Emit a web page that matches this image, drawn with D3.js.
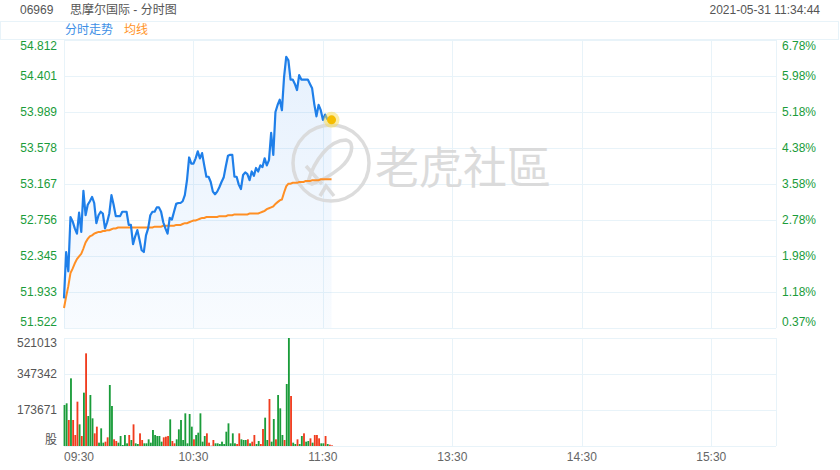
<!DOCTYPE html>
<html>
<head>
<meta charset="utf-8">
<script src="https://cdn.jsdelivr.net/npm/d3@7"></script>
<style>
  body { margin: 0; background: #fff; }
  svg text { font-family: "Liberation Sans", Arial, "Noto Sans CJK SC", sans-serif; }
</style>
</head>
<body>
<svg id="chart"></svg>
<script>
// Data (one value per minute from 09:30)
var prices = [51.86, 52.39, 52.17, 52.79, 52.74, 52.66, 52.60, 52.84, 52.62, 53.09,
  52.81, 52.93, 52.97, 53.02, 52.95, 52.72, 52.81, 52.85, 52.83, 52.66,
  52.73, 52.83, 53.04, 52.93, 52.80, 52.80, 52.80, 52.85, 52.85, 52.85,
  52.70, 52.70, 52.48, 52.57, 52.64, 52.53, 52.41, 52.39, 52.58, 52.66,
  52.81, 52.85, 52.85, 52.90, 52.90, 52.85, 52.73, 52.66, 52.60, 52.78,
  52.76, 52.85, 52.94, 52.95, 52.95, 52.97, 53.04, 53.21, 53.47, 53.40,
  53.40, 53.46, 53.54, 53.46, 53.52, 53.38, 53.25, 53.25, 53.19, 53.08,
  53.05, 53.08, 53.13, 53.19, 53.24, 53.37, 53.49, 53.50, 53.50, 53.25,
  53.25, 53.16, 53.11, 53.27, 53.30, 53.28, 53.21, 53.31, 53.26, 53.35,
  53.31, 53.38, 53.36, 53.46, 53.38, 53.44, 53.75, 53.50, 53.99, 54.07,
  54.13, 54.01, 54.39, 54.62, 54.58, 54.36, 54.36, 54.31, 54.24, 54.41,
  54.36, 54.36, 54.36, 54.36, 54.31, 54.26, 54.08, 53.94, 54.07, 54.01,
  53.90, 53.96, 53.91, 53.90, 53.90];

var averages = [51.75, 51.88, 52.00, 52.15, 52.20, 52.26, 52.31, 52.34, 52.37, 52.43,
  52.50, 52.54, 52.57, 52.58, 52.60, 52.61, 52.62, 52.62, 52.63, 52.63,
  52.64, 52.64, 52.65, 52.66, 52.66, 52.67, 52.67, 52.67, 52.67, 52.67,
  52.67, 52.67, 52.67, 52.67, 52.67, 52.67, 52.67, 52.67, 52.67, 52.67,
  52.67, 52.67, 52.68, 52.68, 52.68, 52.68, 52.69, 52.69, 52.69, 52.69,
  52.69, 52.69, 52.70, 52.70, 52.70, 52.71, 52.72, 52.72, 52.73, 52.74,
  52.75, 52.75, 52.76, 52.77, 52.78, 52.78, 52.79, 52.79, 52.79, 52.79,
  52.79, 52.79, 52.80, 52.80, 52.80, 52.80, 52.81, 52.81, 52.81, 52.82,
  52.82, 52.82, 52.82, 52.82, 52.82, 52.82, 52.83, 52.83, 52.83, 52.83,
  52.83, 52.84, 52.85, 52.86, 52.88, 52.89, 52.90, 52.91, 52.94, 52.96,
  52.98, 52.99, 53.07, 53.14, 53.17, 53.17, 53.18, 53.18, 53.18, 53.19,
  53.19, 53.19, 53.20, 53.20, 53.20, 53.21, 53.21, 53.21, 53.21, 53.22,
  53.22, 53.22, 53.22, 53.22, 53.22];

var volumes = [197800, 205900, 125400, 326400, 125400, 53100, 213900, 104500, 48200, 257300,
  447000, 144700, 246000, 133500, 61100, 93300, 16100, 85200, 16100, 20900,
  41800, 294300, 193000, 32200, 24100, 16100, 48200, 4800, 53100, 12900,
  53100, 28900, 104500, 12900, 9600, 61100, 28900, 12900, 12900, 32200,
  16100, 77200, 53100, 48200, 48200, 20900, 41800, 45000, 48200, 128600,
  24100, 12900, 32200, 80400, 125400, 28900, 157600, 12900, 154400, 93300,
  32200, 53100, 64300, 157600, 20900, 48200, 61100, 16100, 1500, 28900,
  12900, 12900, 9600, 20900, 9600, 69000, 109300, 12900, 61100, 12900,
  9600, 61100, 32200, 28900, 28900, 32200, 12900, 20900, 53100, 9600,
  24100, 9600, 82000, 136700, 28900, 226700, 20900, 130200, 32200, 246000,
  181700, 53100, 28900, 299100, 521013, 241200, 16100, 9600, 32200, 9600,
  48200, 61100, 20900, 24100, 37000, 16100, 53100, 53100, 37000, 12900,
  12900, 48200, 9600, 6400, 3200];

// 1 = up tick (red), -1 = down tick (green)
var volumeDir = [-1, -1, 1, -1, 1, 1, 1, -1, 1, -1,
  1, -1, -1, -1, 1, 1, -1, -1, -1, 1,
  1, -1, -1, 1, 1, -1, -1, -1, -1, -1,
  1, -1, 1, -1, -1, 1, 1, -1, -1, -1,
  -1, -1, -1, -1, -1, -1, 1, 1, 1, -1,
  1, 1, -1, -1, -1, -1, -1, -1, -1, -1,
  1, -1, -1, -1, -1, -1, 1, 1, 1, 1,
  -1, -1, -1, -1, -1, -1, -1, -1, -1, -1,
  1, 1, -1, -1, -1, 1, -1, 1, 1, -1,
  -1, 1, 1, -1, -1, 1, -1, -1, 1, -1,
  -1, -1, 1, -1, -1, 1, -1, -1, 1, -1,
  -1, 1, -1, -1, 1, -1, 1, 1, 1, -1,
  -1, 1, -1, 1, 1];

var priceTicks = ["54.812", "54.401", "53.989", "53.578", "53.167", "52.756", "52.345", "51.933", "51.522"];
var pctTicks = ["6.78%", "5.98%", "5.18%", "4.38%", "3.58%", "2.78%", "1.98%", "1.18%", "0.37%"];
var volTickValues = [521013, 347342, 173671, 0];
var volTickLabels = ["521013", "347342", "173671", "股"];
var timeTickMinutes = [0, 60, 120, 180, 240, 300];
var timeTickLabels = ["09:30", "10:30", "11:30", "13:30", "14:30", "15:30"];

// Layout
var width = 840, height = 470;
var left = 64, right = 776;
var priceTop = 40, priceBottom = 328;
var volTop = 338, volBottom = 446;
var gridColor = "#e8f3f9";
var green = "#1a9c3a", red = "#f03c1e";

var svg = d3.select("#chart").attr("width", width).attr("height", height);

var x = d3.scaleLinear().domain([0, 330]).range([left, right]);
var yPrice = d3.scaleLinear().domain([51.522, 54.812]).range([priceBottom, priceTop]);
var yVol = d3.scaleLinear().domain([0, 521013]).range([volBottom, volTop]);

// Header
svg.append("text").attr("x", 20).attr("y", 10).attr("dominant-baseline", "central")
  .attr("font-size", 12).attr("fill", "#555").text("06969");
svg.append("text").attr("x", 70).attr("y", 10).attr("dominant-baseline", "central")
  .attr("font-size", 12).attr("fill", "#555").text("思摩尔国际 - 分时图");
svg.append("text").attr("x", 820).attr("y", 10).attr("dominant-baseline", "central")
  .attr("text-anchor", "end").attr("font-size", 12).attr("fill", "#555").text("2021-05-31 11:34:44");

svg.append("rect").attr("x", 0.5).attr("y", 21.5).attr("width", 838).attr("height", 18)
  .attr("fill", "none").attr("stroke", gridColor);
svg.append("text").attr("x", 65).attr("y", 30).attr("dominant-baseline", "central")
  .attr("font-size", 12).attr("fill", "#3d8fe6").text("分时走势");
svg.append("text").attr("x", 124).attr("y", 30).attr("dominant-baseline", "central")
  .attr("font-size", 12).attr("fill", "#ff9326").text("均线");

// Grid
var grid = svg.append("g").attr("stroke", gridColor).attr("stroke-width", 1);
priceTicks.forEach(function (t) {
  var yy = Math.round(yPrice(+t)) + 0.5;
  grid.append("line").attr("x1", left).attr("x2", right).attr("y1", yy).attr("y2", yy);
});
volTickValues.forEach(function (v) {
  var yy = Math.round(yVol(v)) + 0.5;
  grid.append("line").attr("x1", left).attr("x2", right).attr("y1", yy).attr("y2", yy);
});
timeTickMinutes.concat([330]).forEach(function (m) {
  var xx = Math.round(x(m)) + 0.5;
  grid.append("line").attr("x1", xx).attr("x2", xx).attr("y1", priceTop).attr("y2", priceBottom);
  grid.append("line").attr("x1", xx).attr("x2", xx).attr("y1", volTop).attr("y2", volBottom);
});

// Axis labels
priceTicks.forEach(function (t, i) {
  var yy = yPrice(+t);
  if (i === 0) yy += 6;
  if (i === priceTicks.length - 1) yy -= 6;
  svg.append("text").attr("x", 57).attr("y", yy).attr("text-anchor", "end")
    .attr("dominant-baseline", "central").attr("font-size", 12).attr("fill", green).text(t);
  svg.append("text").attr("x", 782).attr("y", yy)
    .attr("dominant-baseline", "central").attr("font-size", 12).attr("fill", green).text(pctTicks[i]);
});
volTickValues.forEach(function (v, i) {
  var yy = yVol(v);
  if (i === 0) yy += 5;
  if (i === volTickValues.length - 1) yy -= 6;
  svg.append("text").attr("x", 57).attr("y", yy).attr("text-anchor", "end")
    .attr("dominant-baseline", "central").attr("font-size", 12).attr("fill", "#555")
    .text(volTickLabels[i]);
});
timeTickMinutes.forEach(function (m, i) {
  svg.append("text").attr("x", i === 0 ? left : x(m)).attr("y", 457)
    .attr("text-anchor", i === 0 ? "start" : "middle")
    .attr("dominant-baseline", "central").attr("font-size", 12).attr("fill", "#666")
    .text(timeTickLabels[i]);
});

// Area under price line
var defs = svg.append("defs");
var grad = defs.append("linearGradient").attr("id", "fillGrad")
  .attr("x1", 0).attr("y1", 0).attr("x2", 0).attr("y2", 1);
grad.append("stop").attr("offset", "0%").attr("stop-color", "#2080f0").attr("stop-opacity", 0.11);
grad.append("stop").attr("offset", "100%").attr("stop-color", "#2080f0").attr("stop-opacity", 0.03);

var area = d3.area()
  .x(function (d, i) { return x(i); })
  .y0(priceBottom)
  .y1(function (d) { return yPrice(d); });
svg.append("path").datum(prices).attr("d", area).attr("fill", "url(#fillGrad)");

// Watermark
var wm = svg.append("g").attr("opacity", 0.9);
wm.append("circle").attr("cx", 331).attr("cy", 163).attr("r", 38)
  .attr("fill", "none").attr("stroke", "#d9d9d9").attr("stroke-width", 3.5);
wm.append("path").attr("d", "M308,182 C314,160 330,140 346,140 C356,142 352,158 340,168 C330,176 318,182 312,184 Z")
  .attr("fill", "none").attr("stroke", "#d9d9d9").attr("stroke-width", 3.5);
wm.append("path").attr("d", "M306,166 L322,184 M320,196 L326,186 L334,196")
  .attr("fill", "none").attr("stroke", "#d9d9d9").attr("stroke-width", 3.5);
wm.append("text").attr("x", 375).attr("y", 165).attr("dominant-baseline", "central")
  .attr("font-size", 44).attr("fill", "#d8d8d8")
  .style("font-family", "'Noto Sans CJK TC', 'Noto Sans CJK SC', sans-serif")
  .text("老虎社區");

// Average and price lines
var avgLine = d3.line().x(function (d, i) { return x(i); }).y(function (d) { return yPrice(d); });
svg.append("path").datum(averages).attr("d", avgLine)
  .attr("fill", "none").attr("stroke", "#ff8f24").attr("stroke-width", 2);
svg.append("path").datum(prices).attr("d", avgLine)
  .attr("fill", "none").attr("stroke", "#1f7fe9").attr("stroke-width", 2.2)
  .attr("stroke-linejoin", "round");

// Last point marker
var lastI = prices.length - 1;
svg.append("circle").attr("cx", x(lastI)).attr("cy", yPrice(prices[lastI])).attr("r", 8)
  .attr("fill", "#f8dc50").attr("opacity", 0.5);
svg.append("circle").attr("cx", x(lastI)).attr("cy", yPrice(prices[lastI])).attr("r", 4.5)
  .attr("fill", "#f5bd00");

// Volume bars
var barW = (x(1) - x(0)) * 0.85;
svg.append("g").selectAll("rect")
  .data(volumes)
  .enter().append("rect")
  .attr("x", function (d, i) { return x(i) - barW / 2 + 0.5; })
  .attr("y", function (d) { return yVol(d); })
  .attr("width", barW)
  .attr("height", function (d) { return volBottom - yVol(d); })
  .attr("fill", function (d, i) { return volumeDir[i] > 0 ? red : green; });
</script>
</body>
</html>
